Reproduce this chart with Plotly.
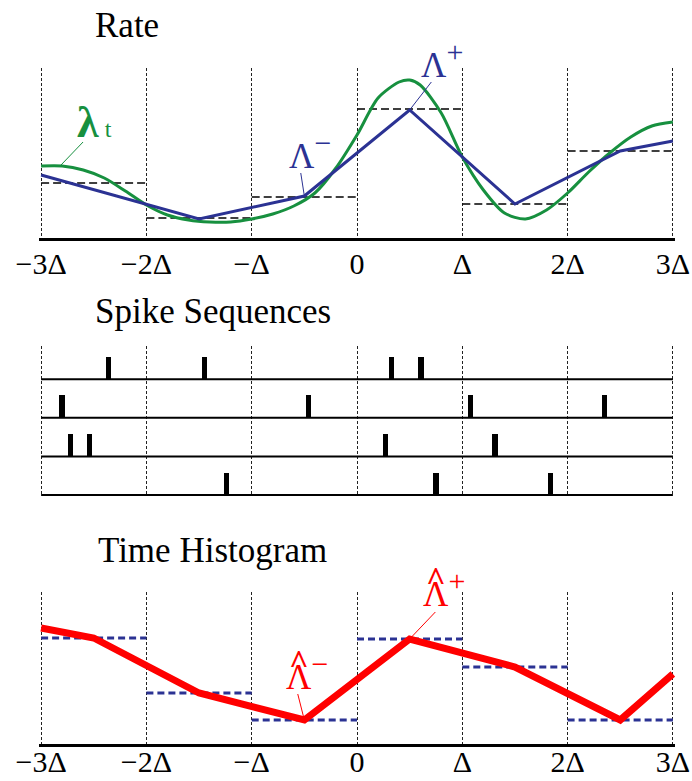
import plotly.graph_objects as go
import numpy as np

W, H = 692, 781
ML, MR = 39, 17
PW = W - ML - MR
SERIF = "Liberation Serif, Times New Roman, serif"

def px_x(p):
    return (p - ML) / PW

def px_y(p):
    return 1 - p / H

# ---------------- data ----------------
tick_vals = [-3, -2, -1, 0, 1, 2, 3]
tick_text = ["−3Δ", "−2Δ", "−Δ", "0", "Δ", "2Δ", "3Δ"]
bin_edges = [-3, -2, -1, 0, 1, 2, 3]

# Rate panel (arbitrary units)
green_t = [-3.0, -2.8, -2.6, -2.4, -2.2, -2.0, -1.8, -1.6, -1.4, -1.2, -1.0, -0.8,
           -0.6, -0.4, -0.2, 0.0, 0.2, 0.4, 0.5, 0.6, 0.8, 1.0, 1.2, 1.4, 1.6,
           1.8, 2.0, 2.2, 2.4, 2.6, 2.8, 3.0]
green_v = [72, 72, 68, 60, 47, 33, 23, 18, 16, 16, 19, 24,
           32, 45, 70, 103, 140, 156, 158, 153, 125, 81, 48, 25, 19,
           28, 45, 66, 85, 101, 112, 116]
blue_t = [-3, -1.5, -0.5, 0.5, 1.5, 2.5, 3]
blue_v = [63, 19, 42, 128, 34, 87, 97]
rate_bin_v = [55, 20, 41, 129, 34, 87]

# Spike sequences (times in units of Delta), top row first
spike_rows = [
    [-2.36, -1.45, 0.33, 0.61],
    [-2.80, -0.46, 1.08, 2.35],
    [-2.72, -2.54, 0.27, 1.31],
    [-1.24, 0.75, 1.84],
]

# Time histogram panel
hist_bin_v = [106, 51, 24, 105, 77, 24]
hist_line_t = [-3, -2.5, -1.5, -0.5, 0.5, 1.5, 2.5, 3]
hist_line_v = [116, 106, 51, 24, 105, 77, 24, 70]

# ---------------- styles ----------------
GREEN = "#17903f"
BLUE = "#2b3293"
RED = "#ff0000"
SPIKE_H = 0.57
SPIKE_W = 0.052


def steps(edges, vals):
    xs, ys = [], []
    for i, v in enumerate(vals):
        xs += [edges[i], edges[i + 1], None]
        ys += [v, v, None]
    return xs, ys


fig = go.Figure()

# Panel 1: rate
sx, sy = steps(bin_edges, rate_bin_v)
fig.add_trace(go.Scatter(x=sx, y=sy, mode="lines", xaxis="x", yaxis="y",
                         line=dict(color="black", width=1.5, dash="8px,4px"),
                         hoverinfo="skip"))
fig.add_trace(go.Scatter(x=green_t, y=green_v, mode="lines", xaxis="x", yaxis="y",
                         line=dict(color=GREEN, width=3, shape="spline", smoothing=0.8)))
fig.add_trace(go.Scatter(x=blue_t, y=blue_v, mode="lines", xaxis="x", yaxis="y",
                         line=dict(color=BLUE, width=3)))

# Panel 2: spikes
n_rows = len(spike_rows)
bx, bbase = [], []
for r, row in enumerate(spike_rows):
    base = n_rows - 1 - r
    for t in row:
        bx.append(t)
        bbase.append(base)
fig.add_trace(go.Bar(x=bx, y=[SPIKE_H] * len(bx), base=bbase, width=SPIKE_W,
                     xaxis="x2", yaxis="y2", marker=dict(color="black", line=dict(width=0))))
lx, ly = [], []
for r in range(n_rows):
    lx += [bin_edges[0], bin_edges[-1], None]
    ly += [r, r, None]
fig.add_trace(go.Scatter(x=lx, y=ly, mode="lines", xaxis="x2", yaxis="y2",
                         line=dict(color="black", width=2)))

# Panel 3: histogram
hx, hy = steps(bin_edges, hist_bin_v)
fig.add_trace(go.Scatter(x=hx, y=hy, mode="lines", xaxis="x3", yaxis="y3",
                         line=dict(color=BLUE, width=3, dash="7px,4px")))
fig.add_trace(go.Scatter(x=hist_line_t, y=hist_line_v, mode="lines", xaxis="x3", yaxis="y3",
                         line=dict(color=RED, width=7)))

# ---------------- axes ----------------
xcommon = dict(range=[-3.02, 3.02], domain=[0, 1], tickmode="array", tickvals=tick_vals,
               ticktext=tick_text, showgrid=True, gridcolor="#222222", gridwidth=1,
               griddash="3px,2px", zeroline=False, ticks="", automargin=False,
               tickfont=dict(family=SERIF, size=30, color="black"))
ycommon = dict(showgrid=False, zeroline=False, showticklabels=False, showline=False,
               ticks="", automargin=False)

fig.update_layout(
    xaxis=dict(xcommon, anchor="y", showline=True, linecolor="black", linewidth=3,
               ticklabelstandoff=-3),
    xaxis2=dict(xcommon, anchor="y2", showline=False, showticklabels=False),
    xaxis3=dict(xcommon, anchor="y3", showline=True, linecolor="black", linewidth=3,
                ticklabelstandoff=-11),
    yaxis=dict(ycommon, range=[0, 170], domain=[px_y(238), px_y(68)]),
    yaxis2=dict(ycommon, range=[-0.03, 3.85], domain=[px_y(496.2), px_y(346.4)]),
    yaxis3=dict(ycommon, range=[0, 152.3], domain=[px_y(744), px_y(591.7)]),
    width=W, height=H, margin=dict(l=ML, r=MR, t=0, b=0, autoexpand=False),
    plot_bgcolor="white", paper_bgcolor="white", showlegend=False,
    bargap=0,
)

# ---------------- titles ----------------
for text, px, py in [("Rate", 93, 25), ("Spike Sequences", 93, 311.5), ("Time Histogram", 96, 550.5)]:
    fig.add_annotation(text=text, xref="paper", yref="paper", x=px_x(px), y=px_y(py),
                       xanchor="left", yanchor="middle", showarrow=False,
                       font=dict(family=SERIF, size=35, color="black"))


# ---------------- labels ----------------
def leader(x, y, ax, ay, color, xa, ya):
    # thin line from the data point to a pixel offset (ax right, ay down)
    fig.add_shape(type="line", xref=xa, yref=ya,
                  xsizemode="pixel", xanchor=x, x0=0, x1=ax,
                  ysizemode="pixel", yanchor=y, y0=0, y1=-ay,
                  line=dict(color=color, width=1))


def label(x, y, text, dx, dy, size, color, xa, ya):
    fig.add_annotation(x=x, y=y, xref=xa, yref=ya, text=text, showarrow=False,
                       xanchor="center", yanchor="middle", xshift=dx, yshift=-dy,
                       font=dict(family=SERIF, size=size, color=color))


MINUS_SUP = "Λ<sup><span style=\"font-size:30px\">−</span></sup>"
PLUS_SUP = "Λ<sup><span style=\"font-size:30px\">+</span></sup>"

# lambda_t (anchored on the green curve)
gx = -2.82
gy = float(np.interp(gx, green_t, green_v))
leader(gx, gy, 23, -24, GREEN, "x", "y")
label(gx, gy, "<b>λ</b><span style=\"font-size:24px\"> t</span>", 34, -43.8, 44, GREEN, "x", "y")

# Lambda minus (blue, at -0.5)
i_m = blue_t.index(-0.5)
leader(blue_t[i_m], blue_v[i_m], -3.6, -23, BLUE, "x", "y")
label(blue_t[i_m], blue_v[i_m], MINUS_SUP, 5.4, -44.9, 35, BLUE, "x", "y")

# Lambda plus (blue, at 0.5)
i_p = blue_t.index(0.5)
leader(blue_t[i_p], blue_v[i_p], 21.7, -28, BLUE, "x", "y")
label(blue_t[i_p], blue_v[i_p], PLUS_SUP, 32.7, -49.9, 35, BLUE, "x", "y")

# hat Lambda minus (red, at -0.5)
j_m = hist_line_t.index(-0.5)
leader(hist_line_t[j_m], hist_line_v[j_m], -6.6, -26, RED, "x3", "y3")
label(hist_line_t[j_m], hist_line_v[j_m], MINUS_SUP, 2.4, -47.9, 35, RED, "x3", "y3")
label(hist_line_t[j_m], hist_line_v[j_m], "<b>^</b>", -5, -59, 34, RED, "x3", "y3")

# hat Lambda plus (red, at 0.5)
j_p = hist_line_t.index(0.5)
leader(hist_line_t[j_p], hist_line_v[j_p], 25.7, -27, RED, "x3", "y3")
label(hist_line_t[j_p], hist_line_v[j_p], PLUS_SUP, 34.7, -49.9, 35, RED, "x3", "y3")
label(hist_line_t[j_p], hist_line_v[j_p], "<b>^</b>", 26.2, -61, 34, RED, "x3", "y3")

fig.write_html("out.html")
